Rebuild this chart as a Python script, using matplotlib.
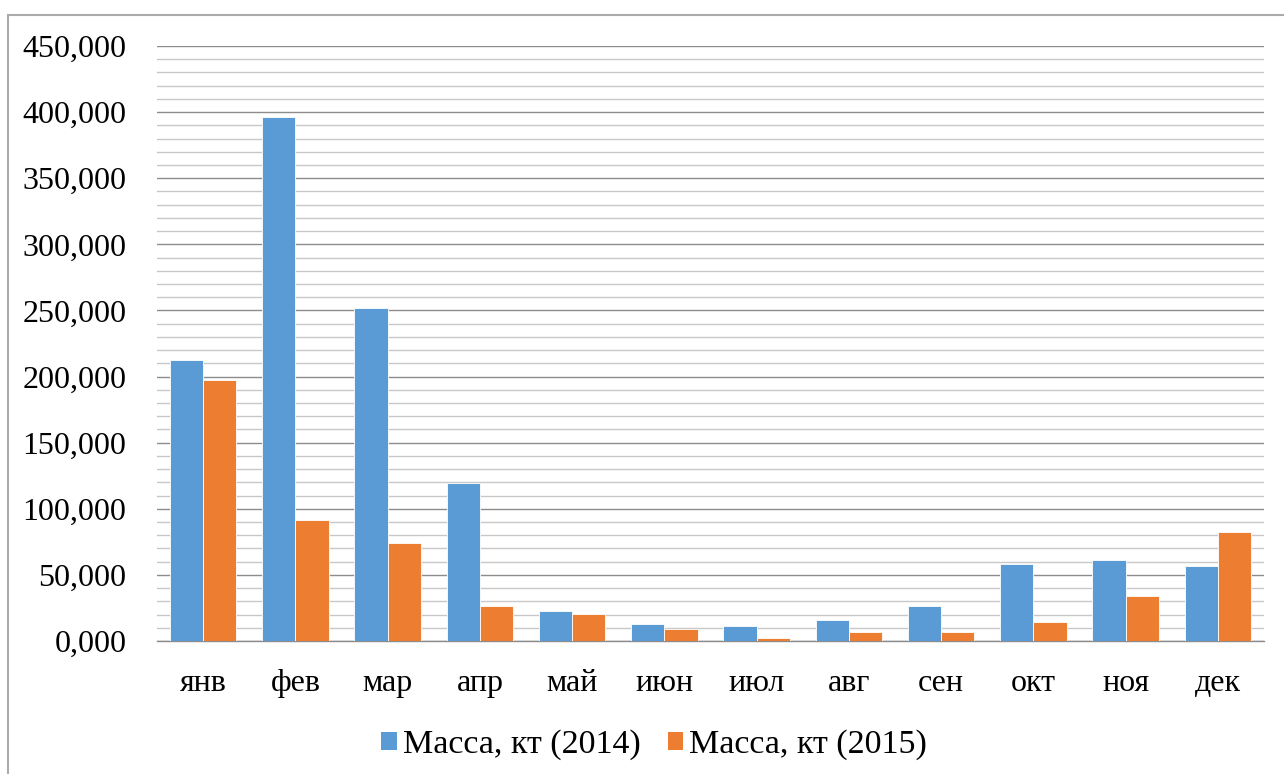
import matplotlib.pyplot as plt
import numpy as np
from matplotlib.patches import Rectangle, Patch
from matplotlib.ticker import MultipleLocator, FuncFormatter

months = ["янв", "фев", "мар", "апр", "май", "июн",
          "июл", "авг", "сен", "окт", "ноя", "дек"]
mass_2014 = [212.5, 396.3, 251.9, 119.5, 22.7, 12.9,
             11.3, 15.9, 26.2, 58.2, 61.0, 56.5]
mass_2015 = [197.4, 91.5, 74.1, 26.5, 20.4, 9.3,
             2.5, 6.5, 6.8, 14.1, 33.8, 82.4]
series_labels = ["Масса, кт (2014)", "Масса, кт (2015)"]

blue = "#5B9BD5"
orange = "#ED7D31"

plt.rcParams["font.family"] = ["Liberation Serif", "DejaVu Serif"]

fig = plt.figure(figsize=(12.84, 7.74), dpi=100)
ax = fig.add_axes([157 / 1284, 133 / 774, 1107 / 1284, 595 / 774])

x = np.arange(len(months))
w = 0.36
ax.bar(x - w / 2, mass_2014, w, color=blue, edgecolor="white", linewidth=0.6, zorder=3)
ax.bar(x + w / 2, mass_2015, w, color=orange, edgecolor="white", linewidth=0.6, zorder=3)

ax.set_xlim(-0.5, len(months) - 0.5)
ax.set_ylim(0, 450)
ax.yaxis.set_major_locator(MultipleLocator(50))
ax.yaxis.set_minor_locator(MultipleLocator(10))
ax.yaxis.set_major_formatter(FuncFormatter(lambda v, p: f"{int(v)},000"))
ax.grid(which="minor", axis="y", color="#C8C8C8", linewidth=1.0, zorder=0)
ax.grid(which="major", axis="y", color="#8C8C8C", linewidth=1.0, zorder=1)

ax.set_xticks(x)
ax.set_xticklabels(months)
ax.tick_params(axis="both", which="both", length=0, labelsize=23)
ax.tick_params(axis="y", pad=22)
ax.tick_params(axis="x", pad=20)

for side in ["top", "right", "left"]:
    ax.spines[side].set_visible(False)
ax.spines["bottom"].set_color("#8C8C8C")
ax.spines["bottom"].set_linewidth(1.0)

# outer chart frame (clipped at the right and bottom edges)
fig.patches.append(Rectangle((8 / 1284, -0.05), 1.1, 1 - 15 / 774 + 0.05,
                             transform=fig.transFigure, fill=False,
                             edgecolor="#ABABAB", linewidth=1.5))

handles = [Patch(facecolor=blue), Patch(facecolor=orange)]
fig.legend(handles, series_labels, loc="center", ncol=2,
           bbox_to_anchor=(654 / 1284, 1 - 745 / 774), frameon=False,
           fontsize=24.5, handlelength=0.45, handleheight=0.45,
           handletextpad=0.17, columnspacing=0.8)

fig.savefig("out.png", dpi=100)
